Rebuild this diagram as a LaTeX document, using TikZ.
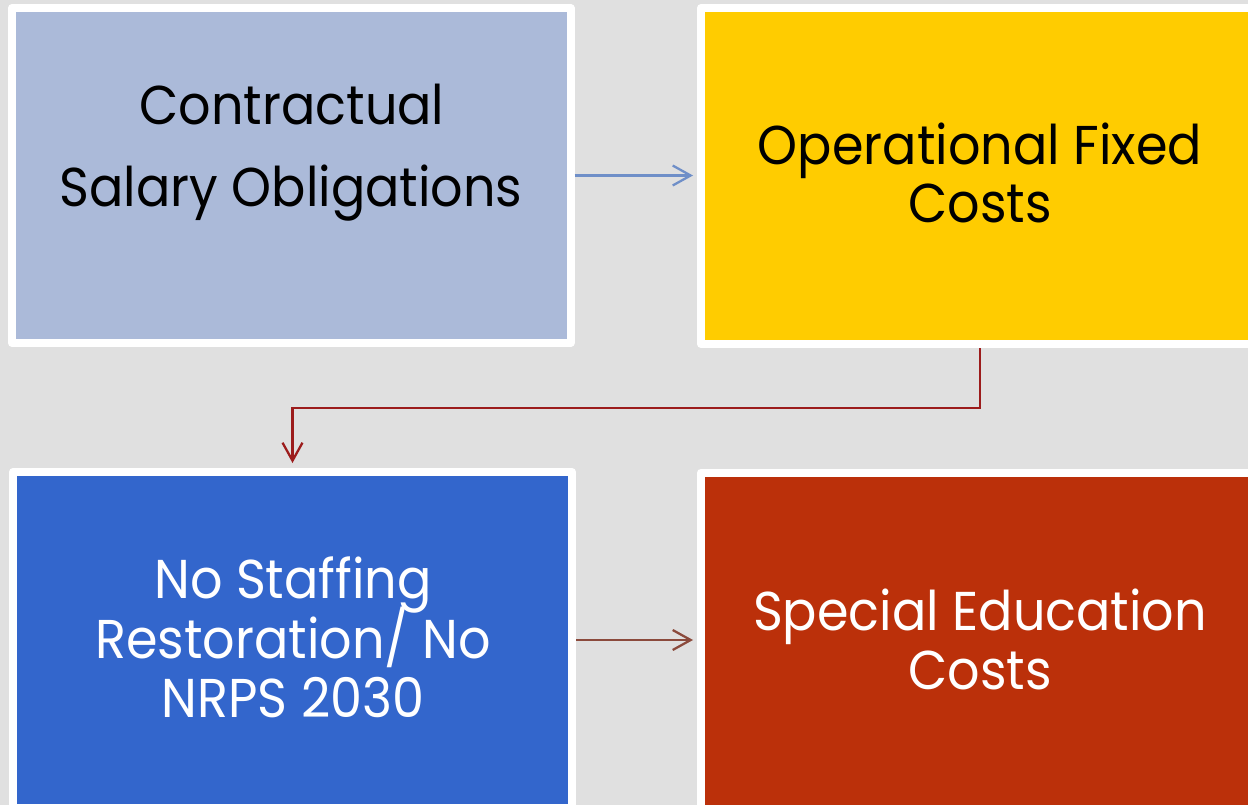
\documentclass[tikz,border=0pt]{standalone}
\usepackage{fontspec}
\setmainfont{Poppins}[FakeStretch=0.93]
\usetikzlibrary{arrows.meta}
\definecolor{bg}{HTML}{E0E0E0}
\definecolor{c1}{HTML}{ABBAD9}
\definecolor{c2}{HTML}{FFCC00}
\definecolor{c3}{HTML}{3366CC}
\definecolor{c4}{HTML}{BB300A}
\definecolor{a1}{HTML}{6F8FC8}
\definecolor{a2}{HTML}{9C1C1C}
\definecolor{a3}{HTML}{8B4A3C}
\begin{document}
\begin{tikzpicture}[x=0.75pt,y=-0.75pt,
  box/.style={draw=white, line width=6pt, line join=round, inner sep=0pt, minimum width=#1*0.75pt},
  box/.default=558,
  lbl/.style={anchor=base, inner sep=0pt, font=\fontsize{41}{49}\selectfont},
  arr/.style={line width=1.7pt, -{Straight Barb[length=13.5pt,width=15pt,line width=1.7pt]}}
]
\useasboundingbox (0,0) rectangle (1248,805);
\clip (0,0) rectangle (1248,805);
\fill[bg] (0,0) rectangle (1248,805);

\node[box=558.5, minimum height=335*0.75pt, fill=c1] (b1) at (291.25,175.5) {};
\node[box=558, minimum height=336*0.75pt, fill=c2] (b2) at (980,176) {};
\node[box=559, minimum height=336*0.75pt, fill=c3] (b3) at (292.5,640) {};
\node[box=558, minimum height=336*0.75pt, fill=c4] (b4) at (980,640.5) {};

\node[lbl, text=black] (t1a) at (292,125) {Contractual};
\node[lbl, text=black] (t1b) at (291,207) {Salary Obligations};
\node[lbl, text=black] (t2a) at (980,165) {Operational Fixed};
\node[lbl, text=black] (t2b) at (980,223) {Costs};
\node[lbl, text=white] (t3a) at (293,598) {No Staffing};
\node[lbl, text=white] (t3b) at (293,658) {Restoration/ No};
\node[lbl, text=white] (t3c) at (293,717) {NRPS 2030};
\node[lbl, text=white] (t4a) at (980,630) {Special Education};
\node[lbl, text=white] (t4b) at (980,689) {Costs};

\coordinate (k) at (980,408);
\draw[arr, a1, shorten >=3pt] (b1.east) -- (b1.east -| b2.west);
\draw[arr, a2, shorten >=3.75pt] (b2.south) -- (k) -| (b3.north);
\draw[arr, a3, shorten >=3pt] (b3.east) -- (b3.east -| b4.west);
\end{tikzpicture}
\end{document}
